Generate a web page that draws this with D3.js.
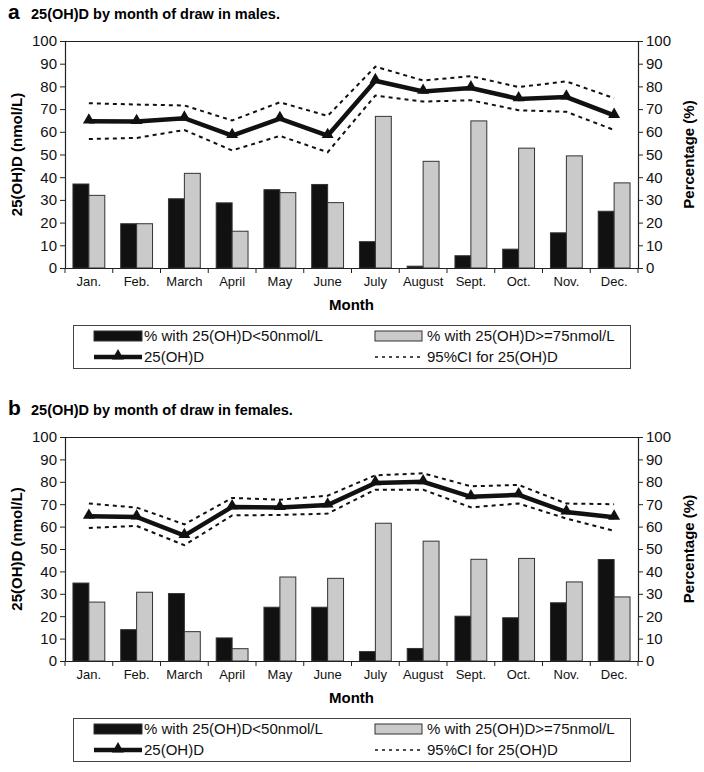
<!DOCTYPE html>
<html>
<head>
<meta charset="utf-8">
<script src="https://cdn.jsdelivr.net/npm/d3@7"></script>
<style>
  html, body { margin: 0; padding: 0; background: #fff; }
  svg { display: block; font-family: "Liberation Sans", Arial, sans-serif; }
</style>
</head>
<body>
<svg id="chart" width="704" height="772"></svg>
<script>
const months = ["Jan.","Feb.","March","April","May","June","July","August","Sept.","Oct.","Nov.","Dec."];
const yTicks = [0,10,20,30,40,50,60,70,80,90,100];

const maleLow50  = [37, 19.5, 30.5, 28.7, 34.5, 36.8, 11.6, 0.8, 5.4, 8.3, 15.5, 25];
const maleHigh75 = [32, 19.5, 41.7, 16.2, 33.2, 28.8, 66.8, 47, 64.8, 52.8, 49.4, 37.5];
const maleMean   = [64.7, 64.5, 66, 58.3, 65.8, 58.3, 82.5, 77.8, 79.3, 74.5, 75.3, 67.2];
const maleUpper  = [72.6, 72, 71.6, 65, 73, 67, 88.7, 82.6, 84.5, 79.7, 82.2, 74.8];
const maleLower  = [56.8, 57.3, 60.8, 51.8, 58.2, 51, 76, 73.3, 73.9, 69.5, 68.8, 60.8];

const femaleLow50  = [34.8, 14, 30.1, 10.3, 24, 24, 4.2, 5.6, 20, 19.3, 26, 45.3];
const femaleHigh75 = [26.3, 30.7, 13.1, 5.5, 37.5, 36.9, 61.5, 53.5, 45.4, 45.8, 35.3, 28.6];
const femaleMean   = [64.6, 64.3, 56, 68.8, 68.5, 69.6, 79.5, 80, 73.3, 74.2, 66.5, 64.2];
const femaleUpper  = [70.3, 68.5, 61, 72.8, 72, 73.8, 82.9, 83.8, 78, 78.6, 70.3, 70];
const femaleLower  = [59.4, 60.3, 51.7, 65, 65.2, 65.8, 76.5, 76.5, 68.6, 70.3, 63.6, 58.1];

const legendLabels = ["% with 25(OH)D<50nmol/L", "% with 25(OH)D>=75nmol/L", "25(OH)D", "95%CI for 25(OH)D"];

const svg = d3.select("#chart");
const BLACK = "#111", GRAY = "#cacaca", EDGE = "#333";

function panel(cfg) {
  const { letter, title, top, low, high, mean, upper, lower } = cfg;
  const g = svg.append("g");
  const x0 = 65, x1 = 638, yTop = top, yBot = top + cfg.h;

  // titles
  g.append("text").attr("x", 8).attr("y", yTop - 22).attr("font-size", 21).attr("font-weight", "bold").text(letter);
  g.append("text").attr("x", 31).attr("y", yTop - 22).attr("font-size", 14.5).attr("font-weight", "bold").text(title);

  const x = d3.scaleBand().domain(months).range([x0, x1]).paddingInner(0).paddingOuter(0);
  const inner = d3.scaleBand().domain(["low","high"]).range([0, x.bandwidth()]).paddingOuter(1/6 * 2).paddingInner(0);
  const y = d3.scaleLinear().domain([0, 100]).range([yBot, yTop]);

  // frame top line
  g.append("line").attr("x1", x0).attr("x2", x1).attr("y1", yTop + 0.5).attr("y2", yTop + 0.5).attr("stroke", "#222").attr("stroke-width", 1.2);

  // bars
  const bw = x.bandwidth();
  const bar = bw / 3;
  g.selectAll(".lo").data(low).join("rect")
    .attr("x", (d, i) => x(months[i]) + bw / 6)
    .attr("y", d => y(d)).attr("width", bar).attr("height", d => yBot - y(d))
    .attr("fill", BLACK).attr("stroke", EDGE).attr("stroke-width", 1);
  g.selectAll(".hi").data(high).join("rect")
    .attr("x", (d, i) => x(months[i]) + bw / 6 + bar)
    .attr("y", d => y(d)).attr("width", bar).attr("height", d => yBot - y(d))
    .attr("fill", GRAY).attr("stroke", EDGE).attr("stroke-width", 1);

  // axes
  const left = d3.axisLeft(y).tickValues(yTicks).tickSize(5).tickPadding(3);
  const right = d3.axisRight(y).tickValues(yTicks).tickSize(5).tickPadding(3);
  const ga = g.append("g").attr("transform", `translate(${x0},0)`).call(left);
  const gr = g.append("g").attr("transform", `translate(${x1},0)`).call(right);
  const bottom = d3.axisBottom(x).tickSize(0).tickPadding(9);
  const gb = g.append("g").attr("transform", `translate(0,${yBot})`).call(bottom);
  [ga, gr, gb].forEach(a => {
    a.select(".domain").attr("stroke", "#222").attr("stroke-width", 1.2);
    a.selectAll(".tick line").attr("stroke", "#222");
    a.selectAll("text").attr("fill", "#111").attr("font-family", "Liberation Sans, Arial, sans-serif");
  });
  ga.selectAll("text").attr("font-size", 15);
  gr.selectAll("text").attr("font-size", 15);
  gb.selectAll("text").attr("font-size", 13);
  // x boundary ticks
  const bounds = months.map(m => x(m)).concat([x1]);
  g.selectAll(".xt").data(bounds).join("line")
    .attr("x1", d => d).attr("x2", d => d).attr("y1", yBot).attr("y2", yBot + 5)
    .attr("stroke", "#222");

  // axis titles
  g.append("text").attr("transform", `translate(22,${(yTop + yBot) / 2}) rotate(-90)`)
    .attr("text-anchor", "middle").attr("font-size", 15).attr("font-weight", "bold").text("25(OH)D (nmol/L)");
  g.append("text").attr("transform", `translate(694,${(yTop + yBot) / 2}) rotate(-90)`)
    .attr("text-anchor", "middle").attr("font-size", 15).attr("font-weight", "bold").text("Percentage (%)");
  g.append("text").attr("x", (x0 + x1) / 2).attr("y", yBot + 42).attr("text-anchor", "middle")
    .attr("font-size", 15).attr("font-weight", "bold").text("Month");

  // lines
  const cx = i => x(months[i]) + bw / 2;
  const line = d3.line().x((d, i) => cx(i)).y(d => y(d));
  g.append("path").datum(upper).attr("d", line).attr("fill", "none").attr("stroke", "#111").attr("stroke-width", 2).attr("stroke-dasharray", "4,4");
  g.append("path").datum(lower).attr("d", line).attr("fill", "none").attr("stroke", "#111").attr("stroke-width", 2).attr("stroke-dasharray", "4,4");
  g.append("path").datum(mean).attr("d", line).attr("fill", "none").attr("stroke", "#111").attr("stroke-width", 4.5).attr("stroke-linejoin", "miter");
  const tri = d3.symbol().type(d3.symbolTriangle).size(62);
  g.selectAll(".mk").data(mean).join("path")
    .attr("d", tri).attr("transform", (d, i) => `translate(${cx(i)},${y(d) - 1})`).attr("fill", "#111");

  // legend
  const ly = yBot + 57, lh = 43;
  const lg = g.append("g");
  lg.append("rect").attr("x", 73.5).attr("y", ly + 0.5).attr("width", 557).attr("height", lh).attr("fill", "#fff").attr("stroke", "#444").attr("stroke-width", 1);
  const r1 = ly + 11, r2 = ly + 32;
  const c1 = 94, c2 = 375, sw = 48;
  lg.append("rect").attr("x", c1).attr("y", r1 - 5).attr("width", sw).attr("height", 10).attr("fill", BLACK).attr("stroke", EDGE);
  lg.append("rect").attr("x", c2).attr("y", r1 - 5).attr("width", sw - 1).attr("height", 10).attr("fill", GRAY).attr("stroke", EDGE);
  lg.append("line").attr("x1", c1).attr("x2", c1 + sw).attr("y1", r2).attr("y2", r2).attr("stroke", "#111").attr("stroke-width", 4.5);
  lg.append("path").attr("d", tri).attr("transform", `translate(${c1 + sw / 2},${r2 - 1})`).attr("fill", "#111");
  lg.append("line").attr("x1", c2).attr("x2", c2 + sw).attr("y1", r2).attr("y2", r2).attr("stroke", "#111").attr("stroke-width", 1.5).attr("stroke-dasharray", "3,4");
  const lt = [[c1 + sw + 2, r1, legendLabels[0]], [c2 + sw + 4, r1, legendLabels[1]], [c1 + sw + 2, r2, legendLabels[2]], [c2 + sw + 4, r2, legendLabels[3]]];
  lg.selectAll(".lt").data(lt).join("text")
    .attr("x", d => d[0]).attr("y", d => d[1]).attr("dy", "0.35em").attr("font-size", 15).attr("fill", "#111").text(d => d[2]);
}

panel({ letter: "a", title: "25(OH)D by month of draw in males.", top: 41, h: 227,
  low: maleLow50, high: maleHigh75, mean: maleMean, upper: maleUpper, lower: maleLower });
panel({ letter: "b", title: "25(OH)D by month of draw in females.", top: 437, h: 224,
  low: femaleLow50, high: femaleHigh75, mean: femaleMean, upper: femaleUpper, lower: femaleLower });
</script>
</body>
</html>
